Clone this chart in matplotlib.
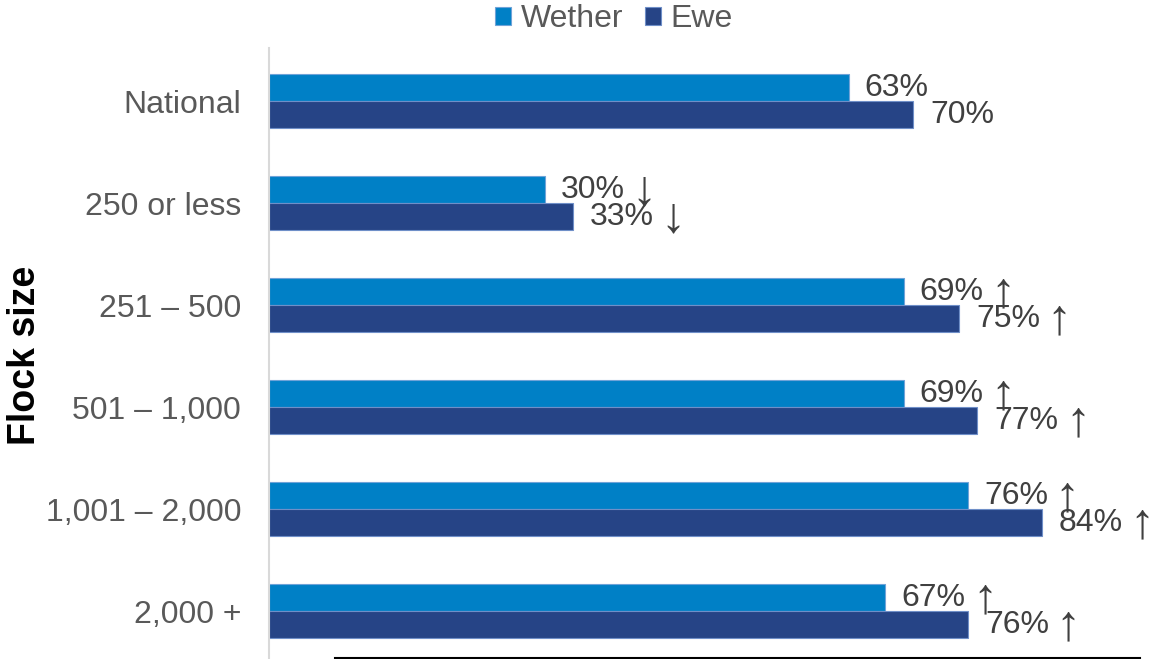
import matplotlib
matplotlib.use("Agg")
import matplotlib.pyplot as plt
from matplotlib.lines import Line2D
import numpy as np

categories = ["National", "250 or less", "251 \u2013 500", "501 \u2013 1,000", "1,001 \u2013 2,000", "2,000 +"]
wether = [63, 30, 69, 69, 76, 67]
ewe = [70, 33, 75, 77, 84, 76]
wether_labels = ["63%", "30%", "69%", "69%", "76%", "67%"]
ewe_labels = ["70%", "33%", "75%", "77%", "84%", "76%"]
wether_arrows = ["", "\u2193", "\u2191", "\u2191", "\u2191", "\u2191"]
ewe_arrows = ["", "\u2193", "\u2191", "\u2191", "\u2191", "\u2191"]

plt.rcParams['font.family'] = ['Liberation Sans', 'DejaVu Sans']

W, H = 1153, 659
fig = plt.figure(figsize=(W / 100, H / 100), dpi=100)
ax = fig.add_axes([269 / W, 1 / H, (1140 - 269) / W, (658 - 48) / H])

c_wether = '#0080C6'
c_ewe = '#264486'
h = 0.265
y = np.arange(len(categories))
bw = ax.barh(y - h / 2, wether, height=h, color=c_wether, edgecolor='#6FA3D8', linewidth=0.8, label='Wether')
be = ax.barh(y + h / 2, ewe, height=h, color=c_ewe, edgecolor='#6F8FC8', linewidth=0.8, label='Ewe')

def label(val, yy, txt, arrow, dx):
    t = ax.annotate(txt, (val, yy), xytext=(dx, 0), textcoords='offset pixels',
                    ha='left', va='center', fontsize=23, color='#404040')
    if arrow:
        ax.annotate(arrow, xy=(1, 0.5), xycoords=t, xytext=(19, -2), textcoords='offset pixels',
                    ha='center', va='center', fontsize=36, color='#404040')

for i in range(len(categories)):
    label(wether[i], y[i] - h / 2, wether_labels[i], wether_arrows[i], 16)
    label(ewe[i], y[i] + h / 2, ewe_labels[i], ewe_arrows[i], 17)

ax.set_xlim(0, (1140 - 269) / 9.2)
ax.set_ylim(5.46, -0.52)
ax.set_yticks(y)
ax.set_yticklabels(categories, fontsize=23, color='#595959')
ax.tick_params(axis='y', length=0, pad=20)
ax.set_xticks([])
for s in ['top', 'right', 'bottom']:
    ax.spines[s].set_visible(False)
ax.spines['left'].set_color('#D9D9D9')
ax.spines['left'].set_linewidth(1.5)

fig.text(25 / W, 1 - 355 / H, "Flock size", rotation=90, ha='center', va='center',
         fontsize=27, fontweight='bold', color='black')

fig.add_artist(Line2D([335 / W, 1140 / W], [1 - 658 / H, 1 - 658 / H], color='black', linewidth=1.5))

fig.legend(handles=[bw, be], labels=['Wether', 'Ewe'], loc='center', bbox_to_anchor=(614 / W, 1 - 19 / H),
           ncol=2, frameon=False, fontsize=23, labelcolor='#595959', handlelength=0.5, handleheight=0.5,
           handletextpad=0.3, columnspacing=0.7, borderpad=0)

fig.savefig("out.png", dpi=100)
